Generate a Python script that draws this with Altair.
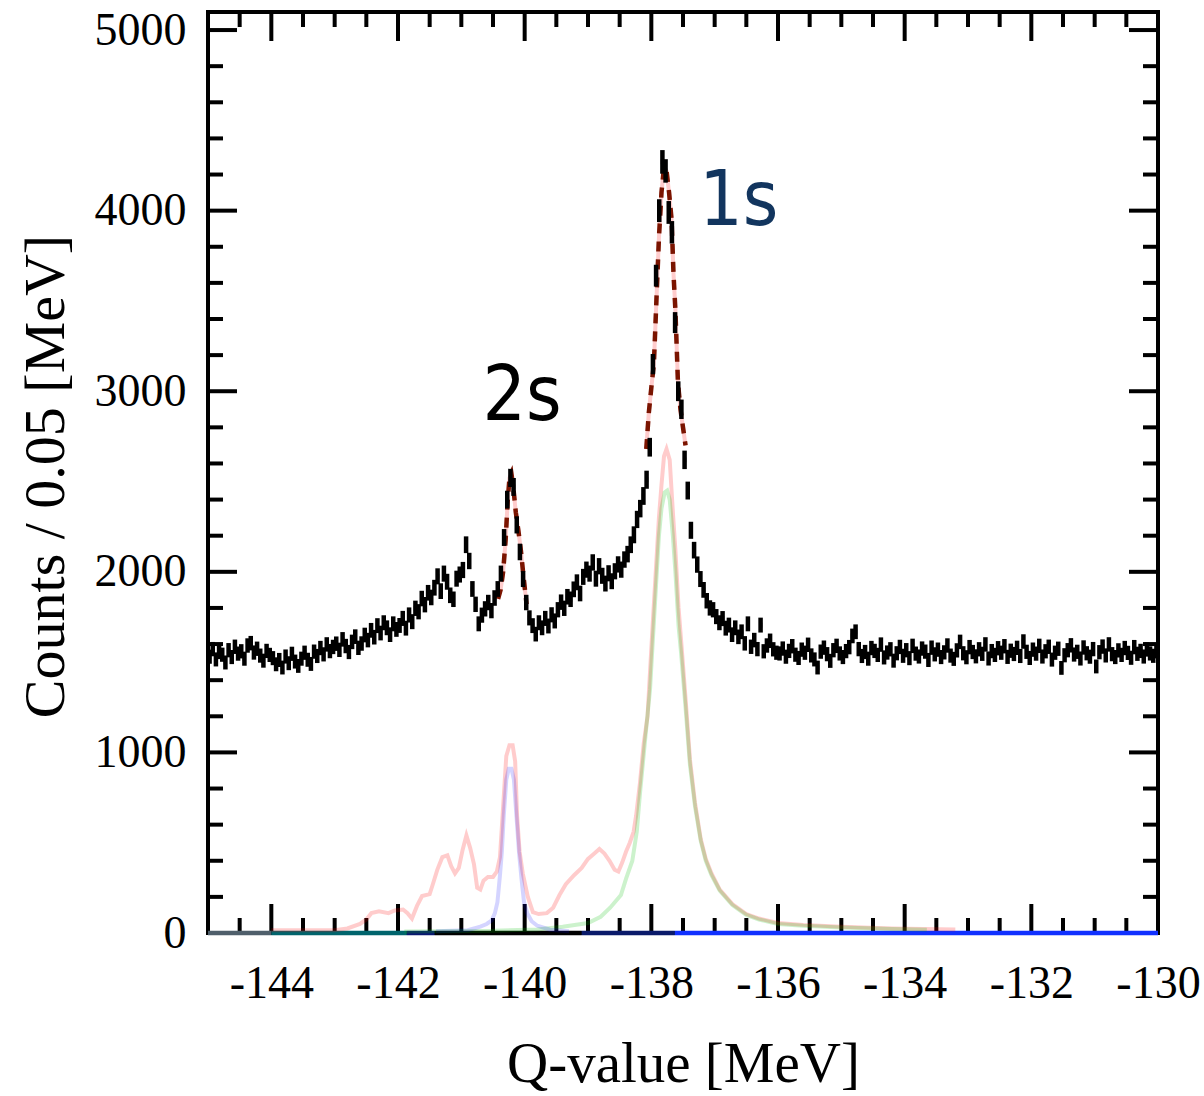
import altair as alt
import pandas as pd

W, H = 950, 921
SERIF = "Liberation Serif, Times New Roman, serif"
SANS_N = "Liberation Sans Narrow, DejaVu Sans Condensed, Roboto, sans-serif"

# ---------------- data ----------------
# counts per 0.05 MeV bin, first bin centred at -144.975 MeV
counts = [
    1530, 1572, 1515, 1556, 1541, 1498, 1566, 1528, 1585, 1547, 1560, 1519, 1592, 1605, 1553, 1574, 1536, 1508, 1562, 1540,
    1522, 1488, 1512, 1470, 1531, 1494, 1546, 1503, 1479, 1519, 1552, 1513, 1490, 1558, 1534, 1578, 1543, 1598, 1561, 1584,
    1602, 1568, 1626, 1589, 1556, 1612, 1641, 1579, 1603, 1650, 1622, 1676, 1638, 1702, 1661, 1718, 1690, 1652, 1712, 1681,
    1703, 1742, 1688, 1761, 1724, 1798, 1779, 1852, 1818, 1884, 1858, 1912, 1975, 1893, 1990, 1945, 1870, 1848, 1962, 1985,
    2010, 2150, 2060, 1905, 1820, 1712, 1760, 1795, 1830, 1785, 1855, 1905, 1990, 2190, 2400, 2520, 2470, 2260, 2110, 1960,
    1830, 1745, 1702, 1655, 1718, 1690, 1742, 1700, 1762, 1728, 1790, 1832, 1798, 1862, 1848, 1903, 1942, 1880, 1972, 2012,
    1990, 2052, 1962, 2031, 1978, 1935, 1992, 1948, 2003, 2041, 2012, 2068, 2098, 2150, 2205, 2290, 2350, 2420, 2510, 2690,
    3150, 3640, 4000, 4270, 4220, 3990, 3880, 3380, 3000, 2900, 2620, 2450, 2230, 2120, 2040, 1960, 1900, 1840, 1800, 1790,
    1752, 1718, 1741, 1688, 1705, 1652, 1690, 1640, 1668, 1604, 1712, 1585, 1622, 1572, 1705, 1560, 1592, 1618, 1571, 1552,
    1548, 1575, 1530, 1562, 1588, 1541, 1523, 1569, 1552, 1596,
    1537, 1515, 1470, 1558, 1580, 1544, 1507, 1566, 1590, 1548,
    1528, 1561, 1583, 1645, 1668, 1572, 1534, 1556, 1519, 1578,
    1562, 1540, 1597, 1526, 1553, 1571, 1508, 1549, 1584, 1535,
    1566, 1522, 1590, 1547, 1531, 1575, 1558, 1512, 1580, 1543,
    1569, 1528, 1554, 1592, 1536, 1518, 1565, 1612, 1549, 1527,
    1583, 1556, 1532, 1571, 1546, 1598, 1520, 1561, 1540, 1577,
    1552, 1588, 1529, 1563, 1545, 1579, 1534, 1614, 1557, 1523,
    1569, 1547, 1590, 1531, 1560, 1585, 1514, 1552, 1574, 1468,
    1538, 1566, 1593, 1542, 1557, 1520, 1581, 1549, 1530, 1572,
    1476, 1555, 1586, 1537, 1598, 1544, 1528, 1565, 1540, 1578,
    1551, 1524, 1583, 1546, 1562, 1531, 1570, 1548, 1535, 1560,
]
BIN0 = -144.975
BINW = 0.05
bin_x = [round(BIN0 + BINW * i, 3) for i in range(len(counts))]

# sum of signal components (light red)
pink_x = [-144.0, -143.0, -142.8, -142.6, -142.5, -142.42, -142.3, -142.15, -142.05, -141.92, -141.85,
          -141.78, -141.7, -141.62, -141.5, -141.45, -141.38, -141.3, -141.22, -141.16, -141.1, -141.04,
          -140.98, -140.92, -140.86, -140.8, -140.75, -140.7, -140.65, -140.58, -140.5, -140.44, -140.39,
          -140.34, -140.29, -140.24, -140.19, -140.15, -140.12, -140.08, -140.03, -139.95, -139.87, -139.78,
          -139.65, -139.55, -139.45, -139.35, -139.22, -139.1, -139.0, -138.9, -138.82, -138.74, -138.66,
          -138.58, -138.52, -138.46, -138.4, -138.34, -138.28, -138.24, -138.18, -138.12, -138.06, -138.02,
          -137.98, -137.93, -137.88, -137.84, -137.8, -137.76, -137.71, -137.66, -137.62, -137.57, -137.53,
          -137.46, -137.39, -137.31, -137.22, -137.14, -137.05, -136.92, -136.72, -136.5, -136.3, -136.0,
          -135.6, -135.0, -134.2, -133.2]
pink_y = [15, 15, 25, 50, 75, 110, 120, 110, 125, 130, 110,
          80, 150, 205, 215, 270, 350, 420, 430, 370, 330, 360,
          460, 540, 470, 380, 250, 240, 290, 310, 310, 340, 420,
          700, 980, 1040, 1040, 950, 650, 450, 330, 200, 115, 105,
          110, 140, 210, 270, 320, 360, 410, 440, 465, 440, 400,
          350, 340, 390, 450, 500, 560, 650, 830, 1050, 1200, 1450,
          1700, 2000, 2300, 2480, 2640, 2680, 2620, 2330, 2120, 1800, 1620,
          1300, 960, 720, 520, 410, 330, 240, 160, 105, 80, 55,
          45, 35, 25, 20]

# 1s component (light green)
green_x = [-141.9, -140.5, -139.8, -139.4, -139.0, -138.8, -138.65, -138.48, -138.4, -138.3, -138.23,
           -138.18, -138.09, -138.02, -137.98, -137.93, -137.88, -137.84, -137.79, -137.75, -137.71,
           -137.66, -137.62, -137.57, -137.53, -137.46, -137.39, -137.31, -137.22, -137.14, -137.05,
           -136.92, -136.72, -136.5, -136.3, -136.0, -135.6, -135.0, -134.2, -133.65]
green_y = [8, 12, 20, 35, 55, 90, 140, 210, 300, 400, 560,
           770, 1100, 1350, 1600, 1900, 2200, 2350, 2440, 2450, 2400,
           2200, 2000, 1700, 1550, 1250, 930, 700, 510, 400, 320,
           235, 155, 100, 75, 50, 40, 30, 22, 18]

# 2s component (light blue)
blue_x = [-141.4, -140.9, -140.7, -140.6, -140.52, -140.47, -140.43, -140.39, -140.36, -140.33, -140.29,
          -140.25, -140.21, -140.17, -140.13, -140.09, -140.05, -140.01, -139.96, -139.89, -139.8,
          -139.6, -139.3]
blue_y = [10, 15, 35, 50, 70, 110, 170, 320, 450, 650, 850,
          910, 910, 850, 650, 450, 300, 170, 110, 65, 40,
          18, 10]

# total fit around the two peaks
fit2s_x = [-140.42, -140.38, -140.34, -140.30, -140.27, -140.24, -140.21, -140.18, -140.14, -140.10,
           -140.06, -140.02, -139.97]
fit2s_y = [1850, 1900, 2000, 2180, 2380, 2520, 2545, 2470, 2330, 2230, 2120, 1980, 1820]
fit1s_x = [-138.08, -138.04, -138.00, -137.96, -137.92, -137.88, -137.84, -137.80, -137.76, -137.72,
           -137.68, -137.65, -137.62, -137.58, -137.54, -137.50, -137.46]
fit1s_y = [2680, 2880, 3020, 3150, 3500, 3850, 4100, 4240, 4220, 4100, 3950, 3650, 3450, 3050, 2900,
           2800, 2700]

# flat components lying on zero
zero_from = [-145.0, -144.0, -141.86, -141.42, -139.1, -137.63]
zero_to = [-144.0, -141.86, -141.42, -139.1, -137.63, -130.0]
zero_colors = ["#4f5f6b", "#00646c", "#0a1870", "#000000", "#0a1a6a", "#1030ff"]

# axis ticks / labels
x_labels = [-144, -142, -140, -138, -136, -134, -132, -130]
y_labels = [0, 1000, 2000, 3000, 4000, 5000]
x_major = [-144, -142, -140, -138, -136, -134, -132]
x_minor = [-144.5, -143.5, -143, -142.5, -141.5, -141, -140.5, -139.5, -139, -138.5, -137.5, -137,
           -136.5, -135.5, -135, -134.5, -133.5, -133, -132.5, -131.5, -131, -130.5]
y_major = [1000, 2000, 3000, 4000, 5000]
y_minor = [200, 400, 600, 800, 1200, 1400, 1600, 1800, 2200, 2400, 2600, 2800, 3200, 3400, 3600, 3800,
           4200, 4400, 4600, 4800]

ann_text = ["2s", "1s"]
ann_x = [-140.04, -136.62]
ann_y = [2840, 3920]
ann_color = ["#000000", "#12355e"]

# ---------------- encodings ----------------
xscale = alt.Scale(domain=[-145, -130], nice=False, zero=False)
yscale = alt.Scale(domain=[0, 5100], nice=False, zero=False)
xaxis = alt.Axis(values=x_labels, labelExpr="'' + datum.value", ticks=False, tickSize=0, domain=False,
                 grid=False, labelFont=SERIF, labelFontSize=46, labelColor="black", labelPadding=28,
                 labelBaseline="top", labelFlush=False, labelOverlap=False,
                 title="Q-value [MeV]", titleFont=SERIF, titleFontSize=57, titleFontWeight="normal",
                 titleColor="black", titleX=475, titleY=148, titleBaseline="alphabetic", titleAlign="center")
yaxis = alt.Axis(values=y_labels, labelExpr="'' + datum.value", ticks=False, tickSize=0, domain=False,
                 grid=False, labelFont=SERIF, labelFontSize=46, labelColor="black", labelPadding=22,
                 labelBaseline="middle", labelAlign="right", labelFlush=False, labelOverlap=False,
                 title="Counts / 0.05 [MeV]", titleFont=SERIF, titleFontSize=58, titleFontWeight="normal",
                 titleColor="black", titleAngle=270, titleX=-145, titleY=464, titleBaseline="alphabetic",
                 titleAlign="center")


def X(f):
    return alt.X(f, type="quantitative", scale=xscale, axis=xaxis)


def Y(f):
    return alt.Y(f, type="quantitative", scale=yscale, axis=yaxis)


layers = []

# ticks (inward, all four sides)
for vals, ln in ((x_major, 29), (x_minor, 15)):
    d = pd.DataFrame({"t": vals})
    layers.append(alt.Chart(d).mark_rule(color="black", strokeWidth=4).encode(
        x=X("t"), y=alt.value(H), y2=alt.value(H - ln)))
    layers.append(alt.Chart(d).mark_rule(color="black", strokeWidth=4).encode(
        x=X("t"), y=alt.value(0), y2=alt.value(ln)))
for vals, ln in ((y_major, 29), (y_minor, 15)):
    d = pd.DataFrame({"t": vals})
    layers.append(alt.Chart(d).mark_rule(color="black", strokeWidth=4).encode(
        y=Y("t"), x=alt.value(0), x2=alt.value(ln)))
    layers.append(alt.Chart(d).mark_rule(color="black", strokeWidth=4).encode(
        y=Y("t"), x=alt.value(W), x2=alt.value(W - ln)))

# zero-level components
zdf = pd.DataFrame({"x0": zero_from, "x1": zero_to, "c": zero_colors, "z": [0] * len(zero_from)})
layers.append(alt.Chart(zdf).mark_rule(strokeWidth=4.5).encode(
    x=X("x0"), x2="x1", y=Y("z"), color=alt.Color("c:N", scale=None)))

# component curves
for xs, ys, col, op in ((pink_x, pink_y, "#ff0000", 0.2), (green_x, green_y, "#00c000", 0.2),
                        (blue_x, blue_y, "#0000ff", 0.17)):
    d = pd.DataFrame({"x": xs, "y": ys})
    layers.append(alt.Chart(d).mark_line(color=col, strokeOpacity=op, strokeWidth=4).encode(
        x=X("x"), y=Y("y")))

# fit curves
fdf = pd.DataFrame({"x": fit2s_x + fit1s_x, "y": fit2s_y + fit1s_y,
                    "seg": ["2s"] * len(fit2s_x) + ["1s"] * len(fit1s_x)})
layers.append(alt.Chart(fdf).mark_line(color="#ffcccc", strokeWidth=4).encode(
    x=X("x"), y=Y("y"), detail="seg:N"))
layers.append(alt.Chart(fdf).mark_line(color="#7a1400", strokeWidth=4.5, strokeDash=[10, 8]).encode(
    x=X("x"), y=Y("y"), detail="seg:N"))

# data points with Poisson error bars
ddf = pd.DataFrame({"x": bin_x, "v": counts})
base = alt.Chart(ddf).transform_calculate(
    lo="datum.v - sqrt(datum.v)", hi="datum.v + sqrt(datum.v)",
    x0="datum.x - 0.025", x1="datum.x + 0.025")
layers.append(base.mark_rule(color="black", strokeWidth=4.5).encode(x=X("x"), y=Y("lo"), y2="hi"))
layers.append(base.mark_rule(color="black", strokeWidth=5).encode(x=X("x0"), x2="x1", y=Y("v")))

# peak labels
adf = pd.DataFrame({"label": ann_text, "ax": ann_x, "ay": ann_y, "col": ann_color})
layers.append(alt.Chart(adf).mark_text(font=SANS_N, fontSize=76, align="center",
                                       baseline="alphabetic").encode(
    x=X("ax"), y=Y("ay"), text="label:N", color=alt.Color("col:N", scale=None)))

chart = alt.layer(*layers).properties(
    width=W, height=H,
    padding={"left": 208, "top": 12, "right": 46, "bottom": 163},
    autosize=alt.AutoSizeParams(type="none"),
    background="white",
).configure_view(stroke="black", strokeWidth=4)

chart.save("out.html", embed_options={"renderer": "svg", "actions": False})
